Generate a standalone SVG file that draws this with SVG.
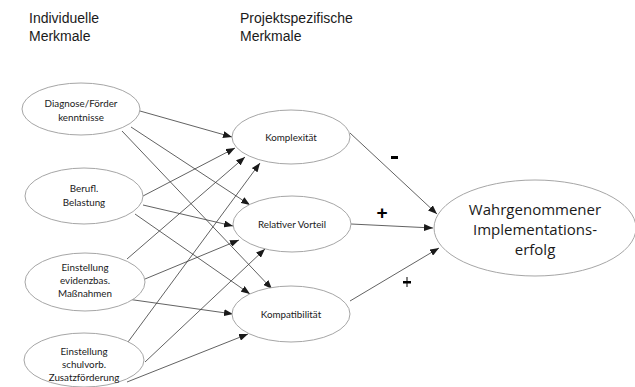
<svg xmlns="http://www.w3.org/2000/svg" width="635" height="387" viewBox="0 0 635 387">
<defs>
<marker id="ah" markerWidth="9" markerHeight="7" refX="9" refY="3.5" orient="auto" markerUnits="userSpaceOnUse">
<path d="M0,0 L9,3.5 L0,7 Z" fill="#1a1a1a"/>
</marker>
<style>
.node ellipse{fill:#fff;stroke:#a6a6a6;stroke-width:1}
.t{font-family:Lato,"Liberation Sans",sans-serif;font-size:9.8px;fill:#1a1a1a;text-anchor:middle}
.big{font-family:"Open Sans","Liberation Sans",sans-serif;font-size:15px;fill:#1a1a1a;text-anchor:middle}
.hdr{font-family:"Liberation Sans",Arial,sans-serif;font-size:14px;fill:#1a1a1a}
.c line{stroke:#3a3a3a;stroke-width:0.8;marker-end:url(#ah)}
.sign{font-family:"Liberation Sans",Arial,sans-serif;font-size:19px;font-weight:bold;fill:#000;text-anchor:middle}
</style>
</defs>
<rect width="635" height="387" fill="#fff"/>
<g id="headers">
<text class="hdr" x="29" y="23">Individuelle</text>
<text class="hdr" x="29" y="41">Merkmale</text>
<text class="hdr" x="240" y="23">Projektspezifische</text>
<text class="hdr" x="240" y="41">Merkmale</text>
</g>
<g id="connectors" class="c">
<line x1="140" y1="111" x2="232" y2="137"/>
<line x1="131" y1="127" x2="250" y2="205"/>
<line x1="122" y1="131" x2="272" y2="289"/>
<line x1="143" y1="196" x2="235" y2="148"/>
<line x1="143" y1="205" x2="233" y2="226"/>
<line x1="135" y1="214" x2="250" y2="294"/>
<line x1="127" y1="259" x2="245" y2="157"/>
<line x1="145" y1="279" x2="239" y2="240"/>
<line x1="127" y1="299" x2="233" y2="314"/>
<line x1="128" y1="342" x2="260" y2="163"/>
<line x1="145" y1="362" x2="265" y2="249"/>
<line x1="127" y1="382" x2="248" y2="334"/>
<line x1="350" y1="133" x2="437" y2="214"/>
<line x1="351" y1="224" x2="433" y2="228"/>
<line x1="350" y1="301" x2="439" y2="248"/>
</g>
<g id="signs">
<rect x="391" y="156" width="7" height="3" fill="#000"/>
<text class="sign" x="382" y="219">+</text>
<rect x="403" y="281" width="8" height="2.5" fill="#000"/>
<rect x="406.5" y="277" width="1" height="10" fill="#000"/>
</g>
<g id="n-diagnose" class="node">
<ellipse cx="81" cy="109" rx="59" ry="26"/>
<text class="t" x="81" y="107">Diagnose/Förder</text>
<text class="t" x="81" y="121">kenntnisse</text>
</g>
<g id="n-belastung" class="node">
<ellipse cx="84" cy="196" rx="59" ry="28"/>
<text class="t" x="84" y="192">Berufl.</text>
<text class="t" x="84" y="206">Belastung</text>
</g>
<g id="n-evidenz" class="node">
<ellipse cx="85" cy="282" rx="60" ry="29"/>
<text class="t" x="85" y="271">Einstellung</text>
<text class="t" x="85" y="284">evidenzbas.</text>
<text class="t" x="85" y="297">Maßnahmen</text>
</g>
<g id="n-schulvorb" class="node">
<ellipse cx="84" cy="360" rx="60" ry="27"/>
<text class="t" x="84" y="355">Einstellung</text>
<text class="t" x="84" y="368">schulvorb.</text>
<text class="t" x="84" y="381">Zusatzförderung</text>
</g>
<g id="n-komplexitaet" class="node">
<ellipse cx="291" cy="137" rx="59" ry="27"/>
<text class="t" x="291" y="141">Komplexität</text>
</g>
<g id="n-vorteil" class="node">
<ellipse cx="292" cy="224" rx="59" ry="28"/>
<text class="t" x="292" y="228">Relativer Vorteil</text>
</g>
<g id="n-kompatibilitaet" class="node">
<ellipse cx="291" cy="314" rx="59" ry="28"/>
<text class="t" x="291" y="318">Kompatibilität</text>
</g>
<g id="n-erfolg" class="node">
<ellipse cx="535" cy="228" rx="101" ry="48"/>
<text class="big" x="535" y="215">Wahrgenommener</text>
<text class="big" x="535" y="235">Implementations-</text>
<text class="big" x="535" y="255">erfolg</text>
</g>
</svg>
